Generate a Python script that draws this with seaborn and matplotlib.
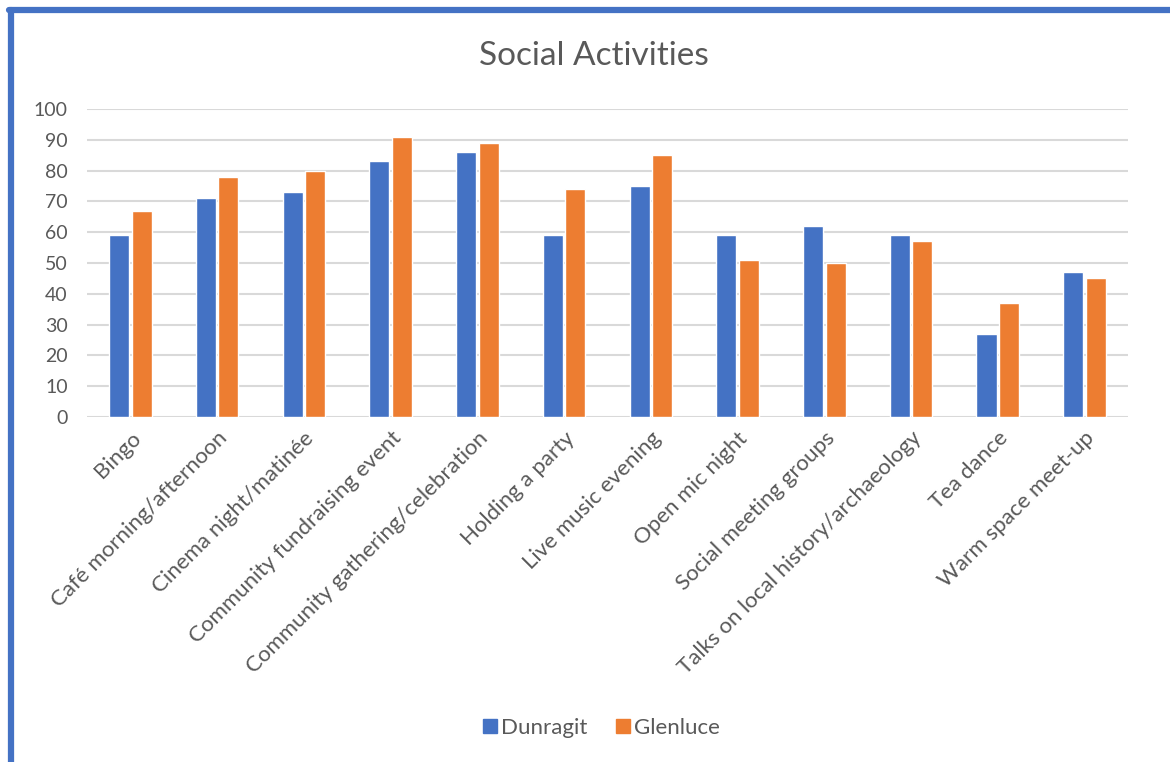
import pandas as pd
import matplotlib.pyplot as plt
import seaborn as sns
from matplotlib.lines import Line2D

# data
activities = ['Bingo', 'Café morning/afternoon', 'Cinema night/matinée',
              'Community fundraising event', 'Community gathering/celebration',
              'Holding a party', 'Live music evening', 'Open mic night',
              'Social meeting groups', 'Talks on local history/archaeology',
              'Tea dance', 'Warm space meet-up']
dunragit = [59, 71, 73, 83, 86, 59, 75, 59, 62, 59, 27, 47]
glenluce = [67, 78, 80, 91, 89, 74, 85, 51, 50, 57, 37, 45]
y_ticks = list(range(0, 101, 10))

df = pd.DataFrame({'Activity': activities * 2,
                   'Value': dunragit + glenluce,
                   'Village': ['Dunragit'] * len(activities) + ['Glenluce'] * len(activities)})

sns.set_theme(style='white')
plt.rcParams['font.family'] = ['Lato', 'DejaVu Sans']
text_col = '#595959'
colors = {'Dunragit': '#4472c4', 'Glenluce': '#ed7d31'}

fig = plt.figure(figsize=(11.7, 7.62), dpi=100)
ax = fig.add_axes([0.0744, 0.4528, 0.8896, 0.4042])

sns.barplot(data=df, x='Activity', y='Value', hue='Village', palette=colors,
            width=0.52, gap=0.11, saturation=1, ax=ax, legend=False, zorder=3)

ax.set_ylim(0, 100)
ax.set_xlim(-0.5, len(activities) - 0.5)
ax.set_yticks(y_ticks)
ax.yaxis.grid(True, color='#d9d9d9', linewidth=1.5, zorder=0)
for s in ax.spines.values():
    s.set_visible(False)
ax.set_xlabel('')
ax.set_ylabel('')
ax.tick_params(axis='both', length=0, labelcolor=text_col)
ax.tick_params(axis='y', pad=14, labelsize=14)
ax.tick_params(axis='x', pad=8, labelsize=16)
plt.setp(ax.get_xticklabels(), rotation=45, ha='right', va='top', rotation_mode='anchor')

fig.text(0.508, 0.926, 'Social Activities', ha='center', va='center', fontsize=24, color=text_col)

# legend
handles = [Line2D([], [], marker='s', linestyle='', markersize=10, color=colors[k]) for k in colors]
fig.legend(handles, list(colors), loc='center', bbox_to_anchor=(0.512, 0.045), ncol=2,
           frameon=False, fontsize=16, labelcolor=text_col, handletextpad=0.0,
           columnspacing=1.1, handlelength=1.0)

# blue frame on top and left
fig.add_artist(Line2D([0.0094, 0.0094], [0.0, 0.987], color='#4472c4', linewidth=4.5,
                      transform=fig.transFigure))
fig.add_artist(Line2D([0.0075, 1.0], [0.987, 0.987], color='#4472c4', linewidth=4.5,
                      transform=fig.transFigure))

plt.savefig('out.png', dpi=100)
